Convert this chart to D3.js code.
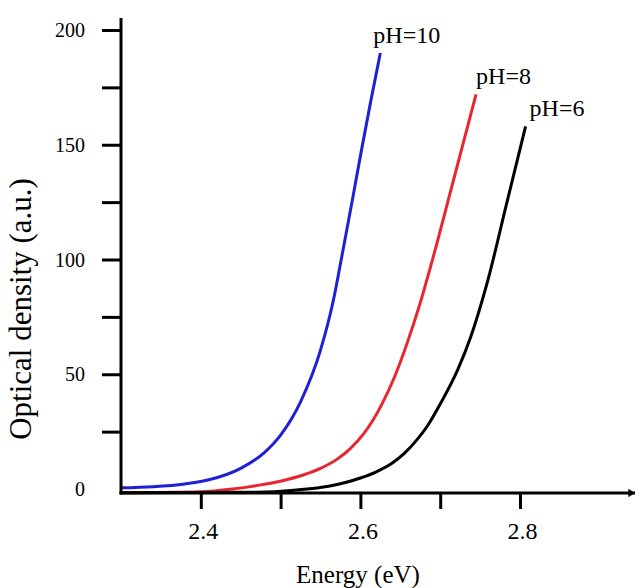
<!DOCTYPE html>
<html>
<head>
<meta charset="utf-8">
<script src="https://cdn.jsdelivr.net/npm/d3@7"></script>
<style>
  html, body { margin: 0; padding: 0; background: #fff; }
  svg { display: block; }
</style>
</head>
<body>
<svg id="chart" width="636" height="588"></svg>
<script>
// ---- data ----
const seriesNames = ["pH=10", "pH=8", "pH=6"];
const seriesColors = ["#1f1fd6", "#e82530", "#000000"];

const energyPH10 = [2.30, 2.34, 2.38, 2.41, 2.45, 2.48, 2.50, 2.525, 2.55, 2.566, 2.576, 2.59, 2.601, 2.613, 2.625];
const odPH10     = [0.5, 1.0, 2.2, 4.0, 9.0, 16, 23.5, 38, 60.5, 82, 100, 126, 147, 169, 190];

const energyPH8  = [2.30, 2.40, 2.44, 2.47, 2.50, 2.53, 2.55, 2.57, 2.587, 2.604, 2.627, 2.643, 2.659, 2.674, 2.688, 2.717, 2.745];
const odPH8      = [-1.6, -1.2, 0.0, 1.5, 3.4, 6.3, 9.0, 12.8, 17.5, 24, 37, 49, 64, 80, 97, 135, 172];

const energyPH6  = [2.30, 2.47, 2.52, 2.56, 2.60, 2.62, 2.64, 2.655, 2.671, 2.685, 2.70, 2.722, 2.738, 2.759, 2.783, 2.807];
const odPH6      = [-1.6, -1.4, -0.4, 1.2, 4.8, 7.5, 11.3, 15.5, 21.5, 28, 37, 52, 66, 90, 124, 158];

const xTickValues = [2.4, 2.5, 2.6, 2.7, 2.8];
const xTickLabels = ["2.4", "", "2.6", "", "2.8"];
const yTickValues = [25, 50, 75, 100, 125, 150, 175, 200];
const yLabelValues = [0, 50, 100, 150, 200];

const xTitle = "Energy (eV)";
const yTitle = "Optical density (a.u.)";

// ---- layout ----
const FONT = "Liberation Serif";
const svg = d3.select("#chart");
const axisX0 = 121;          // y-axis position (px)
const axisYpx = 493;         // x-axis position (px)
const x = d3.scaleLinear().domain([2.3, 2.9]).range([121, 121 + 0.6 * 798]);
const y = d3.scaleLinear().domain([0, 200]).range([489, 30]);

const series = [
  { name: seriesNames[0], color: seriesColors[0], e: energyPH10, v: odPH10, dx: -7 },
  { name: seriesNames[1], color: seriesColors[1], e: energyPH8,  v: odPH8,  dx: 0 },
  { name: seriesNames[2], color: seriesColors[2], e: energyPH6,  v: odPH6,  dx: 4 }
];

const line = d3.line()
  .x(d => x(d[0]))
  .y(d => y(d[1]))
  .curve(d3.curveMonotoneX);

series.forEach(s => {
  const pts = s.e.map((e, i) => [e, s.v[i]]);
  svg.append("path")
    .attr("d", line(pts))
    .attr("fill", "none")
    .attr("stroke", s.color)
    .attr("stroke-width", 3)
    .attr("stroke-linejoin", "round");
  const last = pts[pts.length - 1];
  svg.append("text")
    .attr("x", x(last[0]) + s.dx)
    .attr("y", y(last[1]) - 10)
    .attr("font-family", FONT)
    .attr("font-size", 24)
    .attr("fill", "#000")
    .text(s.name);
});

// arrow marker
svg.append("defs").append("marker")
  .attr("id", "arrow")
  .attr("viewBox", "0 0 10 10")
  .attr("refX", 10).attr("refY", 5)
  .attr("markerWidth", 2.2).attr("markerHeight", 2.8)
  .attr("markerUnits", "strokeWidth")
  .attr("orient", "auto")
  .attr("preserveAspectRatio", "none")
  .append("path")
  .attr("d", "M0,0 L10,5 L0,10 z")
  .attr("fill", "#000");

// y axis ticks
const yAxis = d3.axisLeft(y)
  .tickValues(yTickValues)
  .tickSize(19)
  .tickFormat("");
const gy = svg.append("g")
  .attr("transform", `translate(${axisX0},0)`)
  .call(yAxis);
gy.select(".domain").remove();
gy.selectAll(".tick line").attr("stroke", "#000").attr("stroke-width", 3);

// y tick labels
svg.append("g").selectAll("text")
  .data(yLabelValues)
  .join("text")
  .attr("x", 85)
  .attr("y", d => y(d))
  .attr("dy", "0.35em")
  .attr("text-anchor", "end")
  .attr("font-family", FONT)
  .attr("font-size", 20)
  .attr("fill", "#000")
  .text(d => d);

// x axis ticks + labels
const xAxis = d3.axisBottom(x)
  .tickValues(xTickValues)
  .tickSize(16)
  .tickPadding(13)
  .tickFormat((d, i) => xTickLabels[i]);
const gx = svg.append("g")
  .attr("transform", `translate(0,${axisYpx})`)
  .call(xAxis);
gx.attr("font-family", FONT).attr("font-size", 24);
gx.select(".domain").remove();
gx.selectAll(".tick line").attr("stroke", "#000").attr("stroke-width", 3);
gx.selectAll(".tick text")
  .attr("dx", 2)
  .attr("font-family", FONT)
  .attr("font-size", 24)
  .attr("fill", "#000");

// axis lines
svg.append("line")
  .attr("x1", axisX0).attr("y1", 18)
  .attr("x2", axisX0).attr("y2", axisYpx + 1.5)
  .attr("stroke", "#000").attr("stroke-width", 3);
svg.append("line")
  .attr("x1", axisX0 - 1.5).attr("y1", axisYpx)
  .attr("x2", 635).attr("y2", axisYpx)
  .attr("stroke", "#000").attr("stroke-width", 3)
  .attr("marker-end", "url(#arrow)");

// titles
svg.append("text")
  .attr("x", 358).attr("y", 583)
  .attr("text-anchor", "middle")
  .attr("font-family", FONT)
  .attr("font-size", 25)
  .attr("fill", "#000")
  .text(xTitle);
svg.append("text")
  .attr("transform", "translate(31,309) rotate(-90)")
  .attr("text-anchor", "middle")
  .attr("font-family", FONT)
  .attr("font-size", 31)
  .attr("fill", "#000")
  .text(yTitle);
</script>
</body>
</html>
